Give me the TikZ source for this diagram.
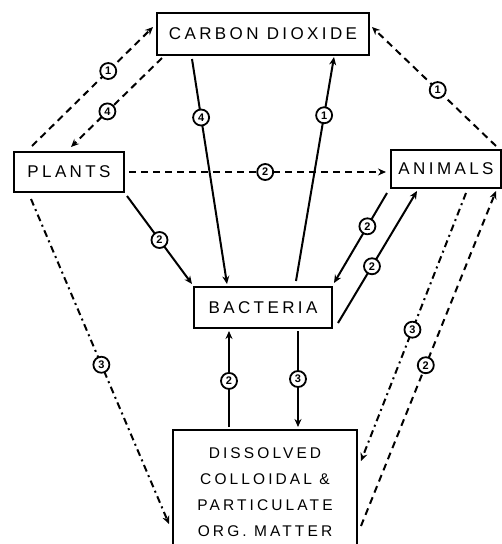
\documentclass[tikz,border=0pt]{standalone}
\usepackage{fontspec}
\setmainfont{Liberation Sans}[LetterSpace=20]
\newfontfamily\digitfont{Liberation Sans}
\usetikzlibrary{arrows.meta}
\tikzset{
  box/.style={draw, line width=2pt, inner sep=0pt, font=\fontsize{17}{19}\selectfont, align=center},
  conn/.style={line width=2pt, -{Stealth[length=8pt,width=7pt]}},
  dsh/.style={conn, dash pattern=on 7pt off 5pt},
  dshdot/.style={conn, dash pattern=on 7pt off 4pt on 2pt off 4pt},
  lbl/.style={solid, circle, draw, fill=white, line width=1.8pt, inner sep=0pt, minimum size=16pt, font=\digitfont\fontsize{11}{11}\selectfont\bfseries}
}
\begin{document}
\begin{tikzpicture}[x=1pt,y=-1pt]
\useasboundingbox (0,0) rectangle (502,544);
\node[box, minimum width=212pt, minimum height=42pt] (co2) at (263,34) {CARBON DIOXIDE};
\node[box, minimum width=110pt, minimum height=40pt] (plants) at (69,172) {PLANTS};
\node[box, minimum width=110pt, minimum height=38pt] (animals) at (446,169) {ANIMALS};
\node[box, minimum width=138pt, minimum height=41pt] (bact) at (263,307.5) {BACTERIA};
\node[box, minimum width=184pt, minimum height=124pt, font=\fontsize{15.5}{26}\selectfont, text depth=0pt] (dom) at (265,492) {DISSOLVED\\COLLOIDAL \&\\PARTICULATE\\ORG. MATTER};
% plants -> co2 (1)
\draw[dsh] ([xshift=19pt,yshift=5pt]plants.north west) -- node[lbl,pos=0.63]{1} ([xshift=-3pt,yshift=7pt]co2.west);
% co2 -> plants (4)
\draw[dsh] ([xshift=6pt,yshift=-2pt]co2.south west) -- node[lbl,pos=0.6]{4} ([xshift=58pt,yshift=4pt]plants.north west);
% co2 -> bacteria (4)
\draw[conn] ([xshift=36pt,yshift=-3pt]co2.south west) -- node[lbl,pos=0.26]{4} ([xshift=34pt,yshift=2pt]bact.north west);
% bacteria -> co2 (1)
\draw[conn] ([xshift=103pt,yshift=5pt]bact.north west) -- node[lbl,pos=0.74]{1} ([xshift=178pt,yshift=-1pt]co2.south west);
% animals -> co2 (1)
\draw[dsh] ([xshift=106pt,yshift=3pt]animals.north west) -- node[lbl,pos=0.47]{1} ([xshift=2pt,yshift=7pt]co2.east);
% plants -> animals (2)
\draw[dsh] ([xshift=4pt]plants.east) -- node[lbl,pos=0.53]{2} ([xshift=-4pt]plants.east -| animals.west);
% plants -> bacteria (2)
\draw[conn] ([xshift=2pt,yshift=-3pt]plants.south east) -- node[lbl,pos=0.5]{2} ([xshift=-1pt,yshift=2pt]bact.north west);
% animals -> bacteria (2)
\draw[conn] ([xshift=-3pt,yshift=-4pt]animals.south west) -- node[lbl,pos=0.37]{2} ([xshift=1pt,yshift=3pt]bact.north east);
% bacteria -> animals (2)
\draw[conn] ([xshift=5pt,yshift=6pt]bact.south east) -- node[lbl,pos=0.43]{2} ([xshift=27pt,yshift=-2pt]animals.south west);
% animals -> dom (3)
\draw[dshdot] ([xshift=76pt,yshift=-4pt]animals.south west) -- node[lbl,pos=0.51]{3} ([xshift=3pt,yshift=-32pt]dom.north east);
% dom -> animals (2)
\draw[dsh] ([xshift=3pt,yshift=-97pt]dom.north east) -- node[lbl,pos=0.48]{2} ([xshift=106pt,yshift=-2pt]animals.south west);
% plants -> dom (3)
\draw[dshdot] ([xshift=18pt,yshift=-6pt]plants.south west) -- node[lbl,pos=0.51]{3} ([xshift=-3pt,yshift=-95pt]dom.north west);
% dom -> bacteria (2)
\draw[conn] ([xshift=57pt,yshift=2pt]dom.north west) -- node[lbl,pos=0.48]{2} ([xshift=36pt,yshift=-2pt]bact.south west);
% bacteria -> dom (3)
\draw[conn] ([xshift=105pt,yshift=-2pt]bact.south west) -- node[lbl,pos=0.5]{3} ([xshift=126pt,yshift=2pt]dom.north west);
\end{tikzpicture}
\end{document}
